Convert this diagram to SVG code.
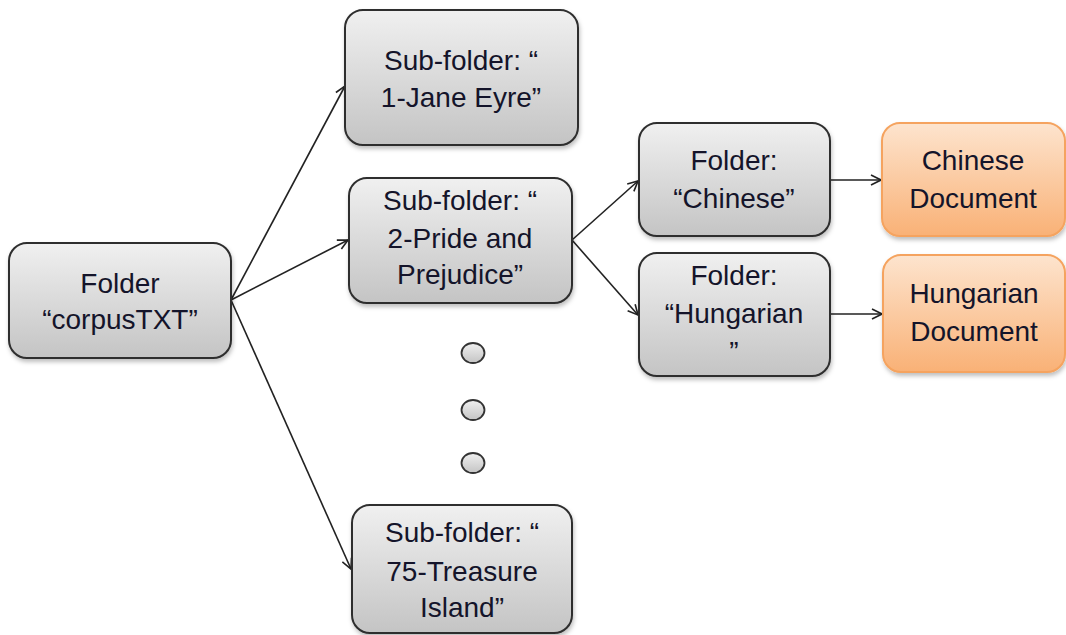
<svg xmlns="http://www.w3.org/2000/svg" width="1066" height="635" viewBox="0 0 1066 635">
<defs>
<linearGradient id="gGray" x1="0" y1="0" x2="0" y2="1">
<stop offset="0" stop-color="#f0f0f0"/>
<stop offset="1" stop-color="#c4c4c4"/>
</linearGradient>
<linearGradient id="gOrange" x1="0" y1="0" x2="0" y2="1">
<stop offset="0" stop-color="#fde4ce"/>
<stop offset="1" stop-color="#f9b176"/>
</linearGradient>
<filter id="sh" x="-10%" y="-10%" width="125%" height="130%">
<feDropShadow dx="1" dy="3" stdDeviation="2" flood-color="#000" flood-opacity="0.25"/>
</filter>
<marker id="arr" viewBox="0 0 12 12" refX="11" refY="6" markerWidth="12" markerHeight="12" markerUnits="userSpaceOnUse" orient="auto">
<path d="M1,1 L11,6 L1,11" fill="none" stroke="#222" stroke-width="1.6"/>
</marker>
</defs>
<style>
.gray{fill:url(#gGray);stroke:#2e2e2e;stroke-width:2;filter:url(#sh)}
.orange{fill:url(#gOrange);stroke:#f5a35e;stroke-width:2;filter:url(#sh)}
.dot{fill:url(#gGray);stroke:#333;stroke-width:1.8}
text{font-family:"Liberation Sans",Arial,sans-serif;font-size:28px;fill:#14142a;text-anchor:middle}
.conn line{stroke:#222;stroke-width:1.6;marker-end:url(#arr)}
</style>
<rect width="1066" height="635" fill="#fff"/>
<g class="conn" id="connectors">
<line x1="231" y1="300" x2="345" y2="86"/>
<line x1="231" y1="300" x2="348" y2="240"/>
<line x1="231" y1="300" x2="351" y2="569"/>
<line x1="572" y1="240" x2="638" y2="181"/>
<line x1="572" y1="240" x2="638" y2="315"/>
<line x1="830" y1="180" x2="881" y2="180"/>
<line x1="830" y1="314" x2="882" y2="314"/>
</g>
<g id="corpus">
<rect class="gray" x="9" y="243" width="222" height="115" rx="18"/>
<text x="120" y="293">Folder</text>
<text x="120" y="329">“corpusTXT”</text>
</g>
<g id="jane">
<rect class="gray" x="345" y="10" width="233" height="135" rx="18"/>
<text x="461" y="70">Sub-folder: “</text>
<text x="461" y="107">1-Jane Eyre”</text>
</g>
<g id="pride">
<rect class="gray" x="349" y="178" width="223" height="125" rx="18"/>
<text x="460" y="210">Sub-folder: “</text>
<text x="460" y="248">2-Pride and</text>
<text x="460" y="284">Prejudice”</text>
</g>
<g id="dots">
<ellipse class="dot" cx="473" cy="353" rx="11.5" ry="10"/>
<ellipse class="dot" cx="473" cy="410" rx="11.5" ry="10"/>
<ellipse class="dot" cx="473" cy="463" rx="11.5" ry="10"/>
</g>
<g id="treasure">
<rect class="gray" x="352" y="505" width="220" height="128" rx="18"/>
<text x="462" y="542">Sub-folder: “</text>
<text x="462" y="581">75-Treasure</text>
<text x="462" y="617">Island”</text>
</g>
<g id="chinese">
<rect class="gray" x="639" y="123" width="191" height="113" rx="18"/>
<text x="734" y="170">Folder:</text>
<text x="734" y="208">“Chinese”</text>
</g>
<g id="hungarian">
<rect class="gray" x="639" y="253" width="191" height="123" rx="18"/>
<text x="734" y="285">Folder:</text>
<text x="734" y="323">“Hungarian</text>
<text x="734" y="361">”</text>
</g>
<g id="chineseDoc">
<rect class="orange" x="882" y="123" width="183" height="113" rx="18"/>
<text x="973" y="170">Chinese</text>
<text x="973" y="208">Document</text>
</g>
<g id="hungarianDoc">
<rect class="orange" x="883" y="255" width="182" height="117" rx="18"/>
<text x="974" y="303">Hungarian</text>
<text x="974" y="341">Document</text>
</g>
</svg>
